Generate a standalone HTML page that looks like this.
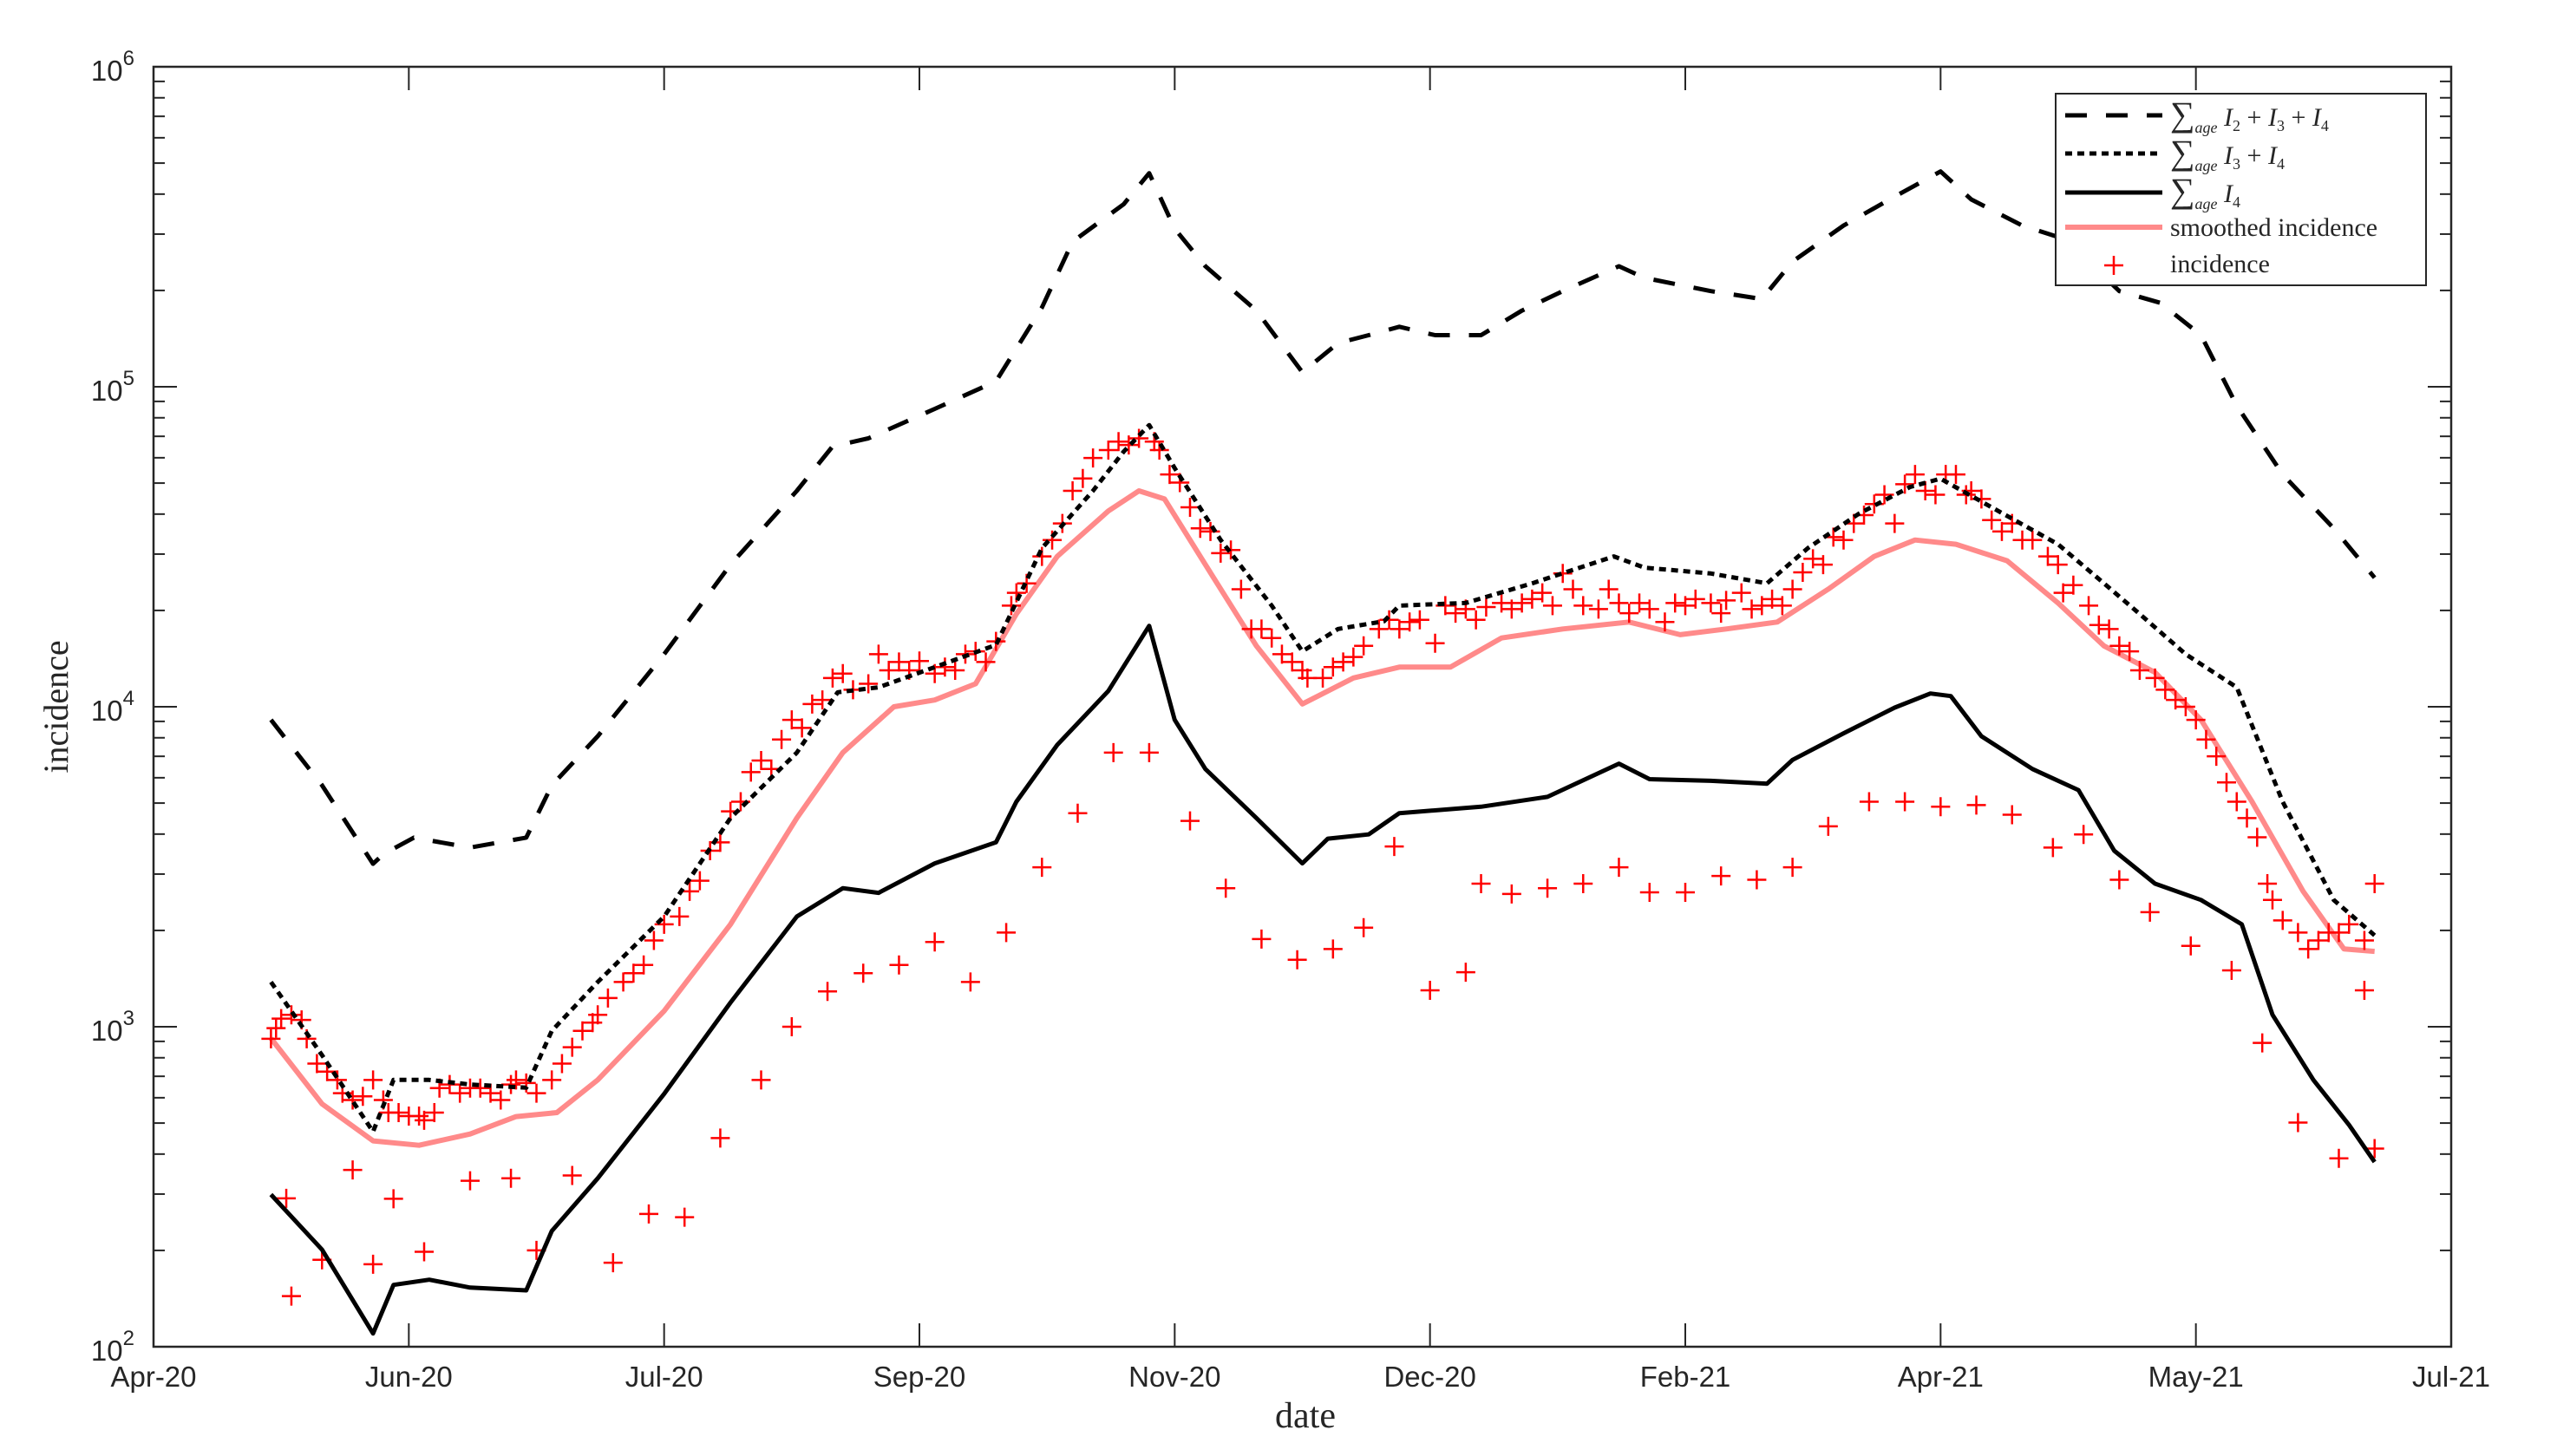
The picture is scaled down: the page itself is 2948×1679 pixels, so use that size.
<!DOCTYPE html>
<html><head><meta charset="utf-8"><style>
html,body{margin:0;padding:0;background:#fff}
svg{display:block}
.tl{font-family:"Liberation Sans",Arial,sans-serif;font-size:33px;fill:#262626}
.ser{font-family:"Liberation Serif","DejaVu Serif",serif;fill:#262626}
</style></head><body>
<svg id="chart" width="2948" height="1679" viewBox="0 0 2948 1679" xmlns="http://www.w3.org/2000/svg">
<defs><clipPath id="clip"><rect x="177" y="77" width="2649" height="1476"/></clipPath></defs>
<rect x="177" y="77" width="2649" height="1476" fill="#fff"/>
<g id="ticks"></g>
<g id="series" clip-path="url(#clip)"></g>
<rect x="177" y="77" width="2649" height="1476" fill="none" stroke="#262626" stroke-width="2.5"/>
<g id="labels"></g>
<text class="ser" x="1505" y="1646" font-size="42" text-anchor="middle">date</text>
<text class="ser" x="0" y="0" font-size="40" text-anchor="middle" transform="translate(78,815) rotate(-90)">incidence</text>
<g>
<rect x="2370" y="108" width="427" height="221" fill="#fff" stroke="#262626" stroke-width="2"/>
<line x1="2381" y1="133" x2="2493" y2="133" stroke="#000" stroke-width="5" stroke-dasharray="25,22"/>
<line x1="2381" y1="177" x2="2493" y2="177" stroke="#000" stroke-width="5" stroke-dasharray="8,6"/>
<line x1="2381" y1="222" x2="2493" y2="222" stroke="#000" stroke-width="5"/>
<line x1="2381" y1="262" x2="2493" y2="262" stroke="#ff8a8a" stroke-width="6"/>
<path d="M2426 306h22M2437 295v22" stroke="#ff0000" stroke-width="2.5"/>
<text class="ser" x="2502" y="145" font-size="30"><tspan font-size="40">∑</tspan><tspan font-size="18" font-style="italic" dy="8">age</tspan><tspan font-style="italic" dy="-8"> I</tspan><tspan font-size="18" dy="6">2</tspan><tspan dy="-6"> + </tspan><tspan font-style="italic">I</tspan><tspan font-size="18" dy="6">3</tspan><tspan dy="-6"> + </tspan><tspan font-style="italic">I</tspan><tspan font-size="18" dy="6">4</tspan></text>
<text class="ser" x="2502" y="189" font-size="30"><tspan font-size="40">∑</tspan><tspan font-size="18" font-style="italic" dy="8">age</tspan><tspan font-style="italic" dy="-8"> I</tspan><tspan font-size="18" dy="6">3</tspan><tspan dy="-6"> + </tspan><tspan font-style="italic">I</tspan><tspan font-size="18" dy="6">4</tspan></text>
<text class="ser" x="2502" y="233" font-size="30"><tspan font-size="40">∑</tspan><tspan font-size="18" font-style="italic" dy="8">age</tspan><tspan font-style="italic" dy="-8"> I</tspan><tspan font-size="18" dy="6">4</tspan></text>
<text class="ser" x="2502" y="272" font-size="30">smoothed incidence</text>
<text class="ser" x="2502" y="314" font-size="30">incidence</text>
</g>
</svg>
<script>
const xTickLabels=["Apr-20","Jun-20","Jul-20","Sep-20","Nov-20","Dec-20","Feb-21","Apr-21","May-21","Jul-21"];
const xTickDays=[0,50,100,150,200,250,300,350,400,450];
const yTickExps=[2,3,4,5,6];
const dashedDays=[23,33,43,45,51,62,73,78,87,100,113,126,133,140,153,165,174,180,190,195,200,206,216,225,232,238,244,251,260,268,276,287,292,305,315,321,331,340,350,356,366,373,379,385,393,401,408,417,427,435];
const dashedVals=[9100,5680,3230,3460,3900,3630,3900,5680,8090,14600,27800,47300,65100,69000,85300,104000,177000,284000,372000,465000,312000,238000,173000,111000,137000,145000,154000,145000,145000,173000,199000,238000,219000,199000,188000,246000,319000,385000,471000,385000,319000,294000,246000,199000,183000,145000,87300,53200,36100,25300];
const dottedDays=[23,33,43,47,54,62,73,78,87,100,113,126,134,142,153,165,174,184,190,195,200,209,219,225,232,241,244,257,270,286,292,305,316,324,334,344,350,360,373,382,389,398,408,417,427,435];
const dottedVals=[1380,815,470,682,682,660,645,971,1380,2210,4490,7190,11100,11500,13300,15600,31300,47300,62700,75900,55700,33200,20700,14900,17500,18500,20700,21100,24300,29500,27200,26100,24300,31300,40100,48600,51600,42000,32200,24300,19500,14600,11500,5050,2490,1930];
const smoothDays=[23,33,43,52,62,71,79,87,100,113,126,135,145,153,161,169,177,187,193,198,206,216,225,235,244,254,264,276,289,299,308,318,328,337,345,353,363,373,382,392,401,411,421,429,435];
const smoothVals=[920,574,440,426,462,524,539,682,1120,2090,4490,7190,10000,10500,11800,19500,29500,40900,47300,44600,27800,15500,10200,12300,13300,13300,16400,17500,18400,16800,17500,18400,23300,29500,33200,32200,28600,21100,15500,12800,9100,5050,2650,1750,1720];
const solidDays=[23,33,43,47,54,62,73,78,87,100,113,126,135,142,153,165,169,177,187,195,200,206,216,225,230,238,244,260,273,287,293,305,316,321,331,341,348,352,358,368,377,384,392,401,409,415,423,430,435];
const solidVals=[299,201,110,156,162,153,150,230,336,617,1190,2210,2710,2620,3240,3770,5050,7600,11200,17900,9100,6390,4490,3240,3870,3990,4650,4870,5230,6640,5940,5870,5750,6820,8260,9940,11000,10800,8090,6390,5490,3550,2800,2490,2090,1090,682,493,378];
const lowDays=[26,27,33,39,43,47,53,62,70,75,82,90,97,104,111,119,125,132,139,146,153,160,167,174,181,188,195,203,210,217,224,231,237,243,250,257,260,266,273,280,287,293,300,307,314,321,328,336,343,350,357,364,372,378,385,391,399,407,413,420,428,433,435];
const lowVals=[291,144,187,357,181,290,198,330,336,200,343,183,260,254,449,682,1000,1290,1470,1560,1840,1380,1970,3150,4650,7190,7190,4400,2710,1880,1620,1750,2040,3660,1300,1480,2800,2600,2710,2800,3150,2630,2630,2960,2880,3150,4230,5050,5050,4870,4930,4600,3630,3990,2880,2280,1790,1500,890,502,388,1300,416];
const highDays=[23,24,25,27,29,30,32,34,36,37,39,41,43,45,46,48,50,52,53,55,56,58,60,62,64,66,68,70,71,73,75,78,80,82,84,86,87,89,92,94,96,98,100,103,105,107,109,111,113,115,117,119,121,123,125,127,129,131,133,135,137,140,142,144,146,148,150,153,155,157,159,161,163,165,168,169,171,174,176,178,180,182,184,187,189,191,193,196,197,199,201,203,205,207,209,211,213,215,217,219,221,223,225,226,229,231,233,235,237,240,242,244,246,248,251,253,255,257,259,261,264,266,268,270,272,274,276,278,280,283,285,287,289,291,293,296,298,300,302,305,307,308,311,313,315,317,319,321,323,325,327,329,331,333,335,337,339,341,343,345,347,349,351,353,355,356,358,360,362,364,366,368,371,373,374,376,379,381,383,385,387,389,392,394,396,398,400,402,404,406,408,410,412,414,415,417,420,422,424,426,428,430,433,435];
const highVals=[917,990,1060,1090,1050,917,767,724,682,620,590,606,682,590,539,539,526,526,510,539,643,660,620,643,643,620,590,660,682,667,620,682,767,863,971,1030,1090,1230,1380,1470,1560,1860,2090,2210,2650,2860,3550,3770,4710,5050,6250,6790,6390,7900,9100,8590,10200,10500,12300,12700,11300,11800,14600,13000,13800,13000,13900,12700,13300,13000,14600,14900,13800,16000,20700,22700,24300,29500,33200,37400,47300,51700,59900,63400,67400,65800,69000,67400,63400,53200,50200,42000,36100,35300,30200,30900,23300,17500,17500,16400,14600,13800,13000,12300,12300,13300,13800,14300,15500,17500,18700,17500,18400,18700,15800,20700,19600,20200,18700,20500,21100,20200,21100,21700,22700,20700,26100,23300,20700,20200,23300,21100,19600,21100,20200,18400,21100,20700,21700,21100,19600,21500,22700,20200,20700,21700,20700,23300,26300,29000,27800,33900,33200,37400,39700,43000,46000,37400,49600,53200,47300,46000,53200,53200,46000,47300,44600,38300,35300,37400,33200,33200,29500,27800,22700,24000,20700,18000,17500,15500,14900,13000,12300,11300,10500,10000,9100,7900,7000,5800,5050,4490,3910,2800,2490,2150,1970,1750,1860,1970,1970,2090,1860,2800];

const NS="http://www.w3.org/2000/svg";
const L=177,R=2826,T=77,B=1553;
const xS=d=>L+(d-0)/(450-0)*(R-L);
const yS=v=>B-(Math.log10(v)-2)/(6-2)*(B-T);
function mk(tag,attrs,parent){const e=document.createElementNS(NS,tag);for(const k in attrs)e.setAttribute(k,attrs[k]);parent.appendChild(e);return e;}
const ticks=document.getElementById('ticks'),labels=document.getElementById('labels'),series=document.getElementById('series');
xTickDays.forEach((d,i)=>{
  const x=xS(d);
  const t1=mk('line',{x1:x,y1:B,x2:x,y2:B-27,stroke:'#262626','stroke-width':2},ticks);
  
  
  const t2=mk('line',{x1:x,y1:T,x2:x,y2:T+27,stroke:'#262626','stroke-width':2},ticks);
  
  
  const tx=mk('text',{x:x,y:B+46,'text-anchor':'middle',class:'tl'},labels);
  tx.textContent=xTickLabels[i];
  
  
});
yTickExps.forEach(e=>{
  const y=yS(Math.pow(10,e));
  [[L,L+27],[R,R-27]].forEach(p=>{
    const t=mk('line',{x1:p[0],y1:y,x2:p[1],y2:y,stroke:'#262626','stroke-width':2},ticks);
    
    
  });
  if(e<6){for(let m=2;m<=9;m++){const ym=yS(m*Math.pow(10,e));
    [[L,L+13],[R,R-13]].forEach(p=>{
      const t=mk('line',{x1:p[0],y1:ym,x2:p[1],y2:ym,stroke:'#262626','stroke-width':2},ticks);
      
      
    });}}
  const tx=mk('text',{x:L-22,y:y+16,'text-anchor':'end',class:'tl'},labels);
  tx.innerHTML='10<tspan dy="-18" font-size="24">'+e+'</tspan>';
  
  
});
function line(days,vals,st,name){
  const pts=days.map((d,i)=>xS(d).toFixed(1)+','+yS(vals[i]).toFixed(1)).join(' ');
  const p=mk('polyline',Object.assign({points:pts,fill:'none','stroke-linejoin':'round'},st),series);
  
  
}
function scatter(days,vals,name){
  days.forEach((d,i)=>{const x=xS(d),y=yS(vals[i]);
    const p=mk('path',{d:`M${x-11} ${y}h22M${x} ${y-11}v22`,stroke:'#ff0000','stroke-width':2.5,fill:'none'},series);
    
    
  });
}
line(smoothDays,smoothVals,{stroke:'#ff8a8a','stroke-width':6},'smoothed-incidence-line');
scatter(highDays,highVals,'incidence-point');
scatter(lowDays,lowVals,'incidence-point-low');
line(dashedDays,dashedVals,{stroke:'#000','stroke-width':5,'stroke-dasharray':'25,22'},'sum-i2-i3-i4-line');
line(dottedDays,dottedVals,{stroke:'#000','stroke-width':5,'stroke-dasharray':'8,6'},'sum-i3-i4-line');
line(solidDays,solidVals,{stroke:'#000','stroke-width':5},'sum-i4-line');
</script>
</body></html>
